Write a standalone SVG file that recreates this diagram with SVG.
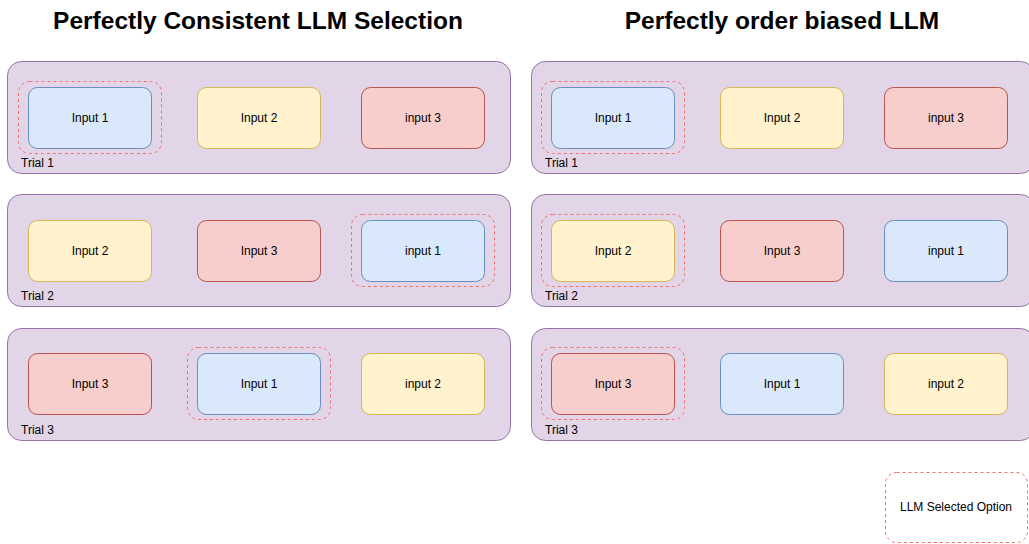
<svg xmlns="http://www.w3.org/2000/svg" width="1029" height="544" viewBox="0 0 1029 544">
<style>
.title{font-family:"Liberation Sans",Arial,sans-serif;font-weight:bold;font-size:24.5px;fill:#000;text-anchor:middle}
.lbl{font-family:"Liberation Sans",Arial,sans-serif;font-size:12px;fill:#000;text-anchor:middle;dominant-baseline:central}
.trial{font-family:"Liberation Sans",Arial,sans-serif;font-size:12px;fill:#000}
.cont{fill:#e1d5e7;stroke:#9673a6;stroke-width:1}
.blue{fill:#dae8fc;stroke:#6c8ebf;stroke-width:1}
.yel{fill:#fff2cc;stroke:#d6b656;stroke-width:1}
.red{fill:#f8cecc;stroke:#b85450;stroke-width:1}
.sel{fill:none;stroke:#f07070;stroke-width:1;stroke-dasharray:3 3}
</style>
<rect width="1029" height="544" fill="#ffffff"/>
<text class="title" x="258" y="28.5">Perfectly Consistent LLM Selection</text>
<text class="title" x="782" y="28.5">Perfectly order biased LLM</text>

<g id="left-trial1">
<rect class="cont" x="7.5" y="61.5" width="503" height="112" rx="14"/>
<rect class="blue" x="28.5" y="87.5" width="123" height="61" rx="9"/><text class="lbl" x="90" y="118">Input 1</text>
<rect class="yel" x="197.5" y="87.5" width="123" height="61" rx="9"/><text class="lbl" x="259" y="118">Input 2</text>
<rect class="red" x="361.5" y="87.5" width="123" height="61" rx="9"/><text class="lbl" x="423" y="118">input 3</text>
<rect class="sel" x="18.5" y="81.5" width="143" height="72" rx="11"/>
<text class="trial" x="21" y="167">Trial 1</text>
</g>
<g id="left-trial2">
<rect class="cont" x="7.5" y="194.5" width="503" height="112" rx="14"/>
<rect class="yel" x="28.5" y="220.5" width="123" height="61" rx="9"/><text class="lbl" x="90" y="251">Input 2</text>
<rect class="red" x="197.5" y="220.5" width="123" height="61" rx="9"/><text class="lbl" x="259" y="251">Input 3</text>
<rect class="blue" x="361.5" y="220.5" width="123" height="61" rx="9"/><text class="lbl" x="423" y="251">input 1</text>
<rect class="sel" x="351.5" y="214.5" width="143" height="72" rx="11"/>
<text class="trial" x="21" y="300">Trial 2</text>
</g>
<g id="left-trial3">
<rect class="cont" x="7.5" y="328.5" width="503" height="112" rx="14"/>
<rect class="red" x="28.5" y="353.5" width="123" height="61" rx="9"/><text class="lbl" x="90" y="384">Input 3</text>
<rect class="blue" x="197.5" y="353.5" width="123" height="61" rx="9"/><text class="lbl" x="259" y="384">Input 1</text>
<rect class="yel" x="361.5" y="353.5" width="123" height="61" rx="9"/><text class="lbl" x="423" y="384">input 2</text>
<rect class="sel" x="187.5" y="347.5" width="143" height="72" rx="11"/>
<text class="trial" x="21" y="434">Trial 3</text>
</g>

<g id="right-trial1">
<rect class="cont" x="531.5" y="61.5" width="503" height="112" rx="14"/>
<rect class="blue" x="551.5" y="87.5" width="123" height="61" rx="9"/><text class="lbl" x="613" y="118">Input 1</text>
<rect class="yel" x="720.5" y="87.5" width="123" height="61" rx="9"/><text class="lbl" x="782" y="118">Input 2</text>
<rect class="red" x="884.5" y="87.5" width="123" height="61" rx="9"/><text class="lbl" x="946" y="118">input 3</text>
<rect class="sel" x="541.5" y="81.5" width="143" height="72" rx="11"/>
<text class="trial" x="545" y="167">Trial 1</text>
</g>
<g id="right-trial2">
<rect class="cont" x="531.5" y="194.5" width="503" height="112" rx="14"/>
<rect class="yel" x="551.5" y="220.5" width="123" height="61" rx="9"/><text class="lbl" x="613" y="251">Input 2</text>
<rect class="red" x="720.5" y="220.5" width="123" height="61" rx="9"/><text class="lbl" x="782" y="251">Input 3</text>
<rect class="blue" x="884.5" y="220.5" width="123" height="61" rx="9"/><text class="lbl" x="946" y="251">input 1</text>
<rect class="sel" x="541.5" y="214.5" width="143" height="72" rx="11"/>
<text class="trial" x="545" y="300">Trial 2</text>
</g>
<g id="right-trial3">
<rect class="cont" x="531.5" y="328.5" width="503" height="112" rx="14"/>
<rect class="red" x="551.5" y="353.5" width="123" height="61" rx="9"/><text class="lbl" x="613" y="384">Input 3</text>
<rect class="blue" x="720.5" y="353.5" width="123" height="61" rx="9"/><text class="lbl" x="782" y="384">Input 1</text>
<rect class="yel" x="884.5" y="353.5" width="123" height="61" rx="9"/><text class="lbl" x="946" y="384">input 2</text>
<rect class="sel" x="541.5" y="347.5" width="143" height="72" rx="11"/>
<text class="trial" x="545" y="434">Trial 3</text>
</g>

<g id="legend">
<rect class="sel" x="885.5" y="472.5" width="142" height="70" rx="11"/>
<text class="lbl" x="956" y="507">LLM Selected Option</text>
</g>
<g id="connectors"></g>
</svg>
